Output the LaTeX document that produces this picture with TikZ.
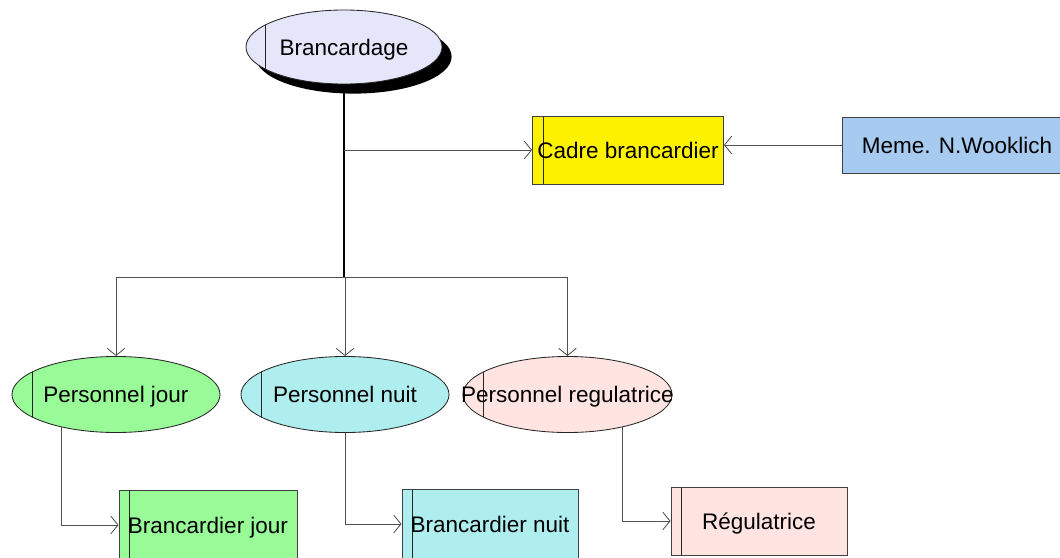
\documentclass[tikz,border=0pt]{standalone}
\usepackage{fontspec}
\setmainfont{Liberation Sans}
\usetikzlibrary{arrows.meta,shapes.geometric,shadows}
\newcommand{\zw}[1]{\makebox[0pt]{\smash{\raisebox{-0.36em}{#1}}}}
\definecolor{topFill}{HTML}{E6E6FA}
\definecolor{jourFill}{HTML}{98FB98}
\definecolor{nuitFill}{HTML}{AFEEEE}
\definecolor{regFill}{HTML}{FFE4E1}
\definecolor{memeFill}{HTML}{A6CAF0}
\definecolor{lineGray}{HTML}{505050}

\begin{document}
\begin{tikzpicture}[
  x=0.025cm, y=-0.025cm,
  every node/.style={font=\fontsize{16}{19}\selectfont},
  ovalnode/.style={ellipse, draw=black!85, line width=0.6pt, inner sep=0pt,
                   minimum width=5.2cm, minimum height=1.9cm,
                   path picture={\draw[black!85, line width=0.6pt]
                     ([xshift=#1]path picture bounding box.south west) --
                     ([xshift=#1]path picture bounding box.north west);}},
  rectnode/.style={rectangle, draw=black!75, line width=0.6pt, inner sep=0pt,
                   minimum width=4.45cm, minimum height=1.75cm,
                   path picture={\draw[black!85, line width=0.6pt]
                     ([xshift=#1]path picture bounding box.south west) --
                     ([xshift=#1]path picture bounding box.north west);}},
  arr/.style={-{Straight Barb[length=1.8mm, width=4.4mm]}, lineGray, line width=0.6pt},
  trunk/.style={black, line width=1.4pt},
]
  \clip (0,0) rectangle (1060,558);

  % top of the tree
  \node[ovalnode=0.475cm, fill=topFill, minimum width=4.9cm, minimum height=1.85cm,
        drop shadow={shadow xshift=0.24cm, shadow yshift=-0.24cm, fill=black, opacity=1}]
        (brancardage) at (344,47) {\zw{Brancardage}};
  \node[rectnode=0.275cm, fill=yellow, minimum width=4.775cm, minimum height=1.7cm]
        (cadre) at (628,150) {\zw{Cadre brancardier}};
  \node[rectangle, draw=black!75, line width=0.6pt, fill=memeFill, inner sep=0pt,
        minimum width=5.75cm, minimum height=1.4cm]
        (meme) at (957,145) {\zw{Meme. N.Wooklich}};

  % personnel
  \node[ovalnode=0.5cm, fill=jourFill] (jour) at (116,394.5) {\zw{Personnel jour}};
  \node[ovalnode=0.5cm, fill=nuitFill] (nuit) at (345,394.5) {\zw{Personnel nuit}};
  \node[ovalnode=0.5cm, fill=regFill, minimum width=5.225cm]
        (regul) at (567.5,394.5) {\zw{Personnel regulatrice}};

  % brancardiers
  \node[rectnode=0.25cm, fill=jourFill] (bjour) at (208,525) {\zw{Brancardier jour}};
  \node[rectnode=0.25cm, fill=nuitFill, minimum width=4.4cm] (bnuit) at (490,524) {\zw{Brancardier nuit}};
  \node[rectnode=0.25cm, fill=regFill, minimum width=4.4cm, minimum height=1.7cm]
        (bregul) at (759,521) {\zw{Régulatrice}};

  \coordinate (hub) at (344,277);

  \draw[trunk] (brancardage) -- (hub);
  \draw[arr] (brancardage.south |- cadre.west) -- (cadre.west);
  \draw[arr] (meme.west) -- (cadre.east |- meme.west);

  \draw[lineGray, line width=0.6pt] (jour.north |- hub) -- (regul.north |- hub);
  \draw[arr] (hub) -| (jour.north);
  \draw[arr] (nuit.north |- hub) -- (nuit.north);
  \draw[arr] (hub) -| (regul.north);

  \draw[arr] (jour.-149) |- (bjour.west);
  \draw[arr] (nuit.south) |- (bnuit.west);
  \draw[arr] (regul.-31) |- (bregul.west);
\end{tikzpicture}
\end{document}
